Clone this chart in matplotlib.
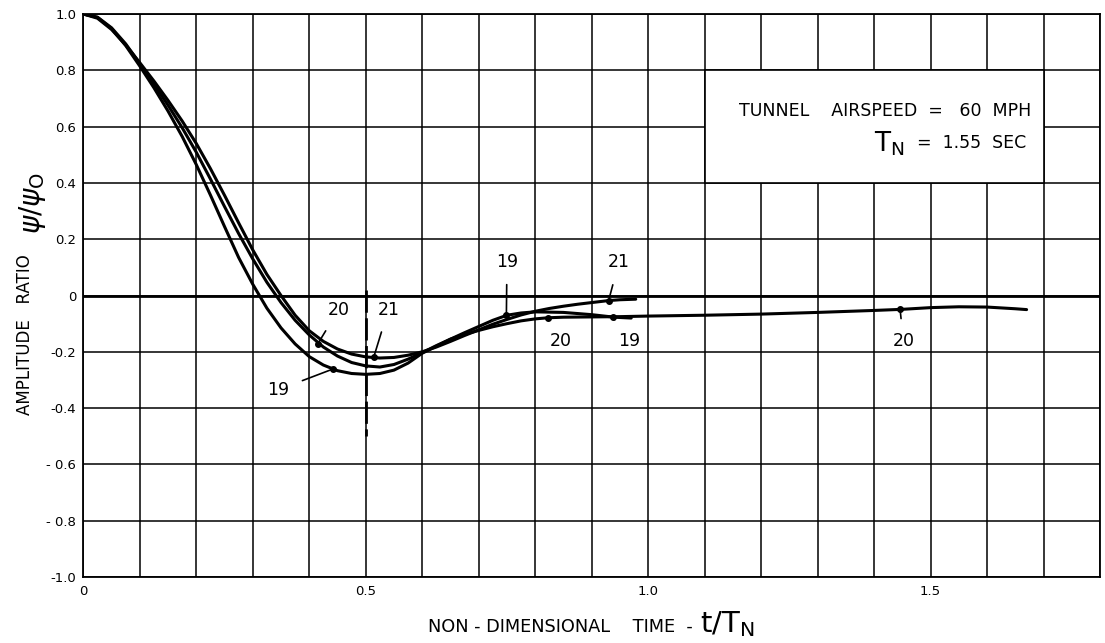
import matplotlib
matplotlib.use("Agg")
import matplotlib.pyplot as plt
from matplotlib.patches import Rectangle

# run 19
t19 = [0.0, 0.025, 0.05, 0.075, 0.10, 0.125, 0.15, 0.175, 0.20, 0.225, 0.25, 0.275,
       0.30, 0.325, 0.35, 0.375, 0.40, 0.425, 0.45, 0.475, 0.50, 0.525, 0.55, 0.575,
       0.60, 0.625, 0.65, 0.675, 0.70, 0.725, 0.75, 0.775, 0.80, 0.85, 0.90, 0.94, 0.97]
y19 = [1.0, 0.988, 0.948, 0.888, 0.815, 0.738, 0.655, 0.565, 0.465, 0.357, 0.245, 0.135,
       0.04, -0.045, -0.115, -0.172, -0.217, -0.247, -0.267, -0.277, -0.28, -0.277, -0.265, -0.24,
       -0.205, -0.18, -0.155, -0.132, -0.11, -0.088, -0.07, -0.062, -0.058, -0.06, -0.068, -0.077, -0.08]

# run 20
t20 = [0.0, 0.025, 0.05, 0.075, 0.10, 0.125, 0.15, 0.175, 0.20, 0.225, 0.25, 0.275,
       0.30, 0.325, 0.35, 0.375, 0.40, 0.425, 0.45, 0.475, 0.50, 0.525, 0.55, 0.575,
       0.60, 0.625, 0.65, 0.675, 0.70, 0.725, 0.75, 0.775, 0.80, 0.823, 0.85, 0.90, 0.95, 1.0,
       1.1, 1.2, 1.3, 1.4, 1.45, 1.5, 1.55, 1.6, 1.65, 1.67]
y20 = [1.0, 0.989, 0.951, 0.894, 0.824, 0.751, 0.676, 0.596, 0.509, 0.414, 0.316, 0.22,
       0.13, 0.047, -0.025, -0.088, -0.14, -0.183, -0.215, -0.238, -0.25, -0.254, -0.245, -0.226,
       -0.203, -0.178, -0.155, -0.138, -0.124, -0.111, -0.1, -0.09, -0.083, -0.079, -0.077, -0.076, -0.075, -0.073,
       -0.07, -0.066, -0.06, -0.053, -0.049, -0.043, -0.04, -0.041, -0.047, -0.05]

# run 21
t21 = [0.0, 0.025, 0.05, 0.075, 0.10, 0.125, 0.15, 0.175, 0.20, 0.225, 0.25, 0.275,
       0.30, 0.325, 0.35, 0.375, 0.40, 0.425, 0.45, 0.475, 0.50, 0.525, 0.55, 0.575,
       0.60, 0.625, 0.65, 0.675, 0.70, 0.725, 0.75, 0.775, 0.80, 0.825, 0.85, 0.875,
       0.90, 0.93, 0.95, 0.978]
y21 = [1.0, 0.985, 0.945, 0.89, 0.827, 0.762, 0.693, 0.62, 0.54, 0.451, 0.356, 0.258,
       0.162, 0.075, 0.0, -0.07, -0.125, -0.163, -0.19, -0.208, -0.218, -0.222, -0.22, -0.212,
       -0.2, -0.183, -0.163, -0.142, -0.122, -0.102, -0.085, -0.069, -0.056, -0.046, -0.038, -0.031,
       -0.025, -0.018, -0.015, -0.013]

# run labels: (text, point on curve, text position)
labels = [
    ("20", (0.415, -0.172), (0.452, -0.05)),
    ("21", (0.514, -0.22), (0.54, -0.05)),
    ("19", (0.442, -0.261), (0.345, -0.335)),
    ("19", (0.749, -0.07), (0.75, 0.12)),
    ("21", (0.93, -0.018), (0.948, 0.118)),
    ("20", (0.823, -0.079), (0.845, -0.16)),
    ("19", (0.937, -0.075), (0.967, -0.16)),
    ("20", (1.446, -0.049), (1.452, -0.163)),
]

xticks = [i / 10 for i in range(19)]
xlabels = {0: "0", 5: "0.5", 10: "1.0", 15: "1.5"}
yticks = [-1.0, -0.8, -0.6, -0.4, -0.2, 0.0, 0.2, 0.4, 0.6, 0.8, 1.0]
ylabels = ["-1.0", "- 0.8", "- 0.6", "-0.4", "-0.2", "0", "0.2", "0.4", "0.6", "0.8", "1.0"]

fig = plt.figure(figsize=(11.05, 6.43), dpi=100)
ax = fig.add_axes([0.0754, 0.1026, 0.9201, 0.8756])

ax.set_xlim(0, 1.8)
ax.set_ylim(-1.0, 1.0)
ax.set_xticks(xticks)
ax.set_xticklabels([xlabels.get(i, "") for i in range(19)], fontsize=9.5)
ax.set_yticks(yticks)
ax.set_yticklabels(ylabels, fontsize=9.5)
ax.tick_params(length=0, pad=6)
ax.tick_params(axis="y", pad=5)
ax.set_axisbelow(True)
ax.grid(True, color="black", lw=1.1)
for s in ax.spines.values():
    s.set_linewidth(1.3)

ax.axhline(0, color="black", lw=2.0, zorder=1)
ax.plot([0.5, 0.5], [0.02, -0.5], color="black", lw=2.0, dashes=(8, 2), zorder=1)

ax.add_patch(Rectangle((1.1, 0.4), 0.6, 0.4, facecolor="white", edgecolor="black",
                       lw=1.2, zorder=1.5))
ax.text(1.679, 0.656, "TUNNEL    AIRSPEED  =   60  MPH", fontsize=12.5, ha="right", va="center", zorder=3)
ax.text(1.40, 0.54, r"$\mathrm{T}_{\mathrm{N}}$", fontsize=19, ha="left", va="center", zorder=3)
ax.text(1.67, 0.542, "=  1.55  SEC", fontsize=12.5, ha="right", va="center", zorder=3)

for t, y in [(t19, y19), (t20, y20), (t21, y21)]:
    ax.plot(t, y, color="black", lw=2.2, solid_capstyle="round", solid_joinstyle="round", zorder=4)

for txt, pt, pos in labels:
    ax.annotate(txt, xy=pt, xytext=pos, fontsize=12.5, ha="center", va="center",
                arrowprops=dict(arrowstyle="-", color="black", lw=1.2, shrinkA=8, shrinkB=0),
                zorder=5)
    ax.plot(pt[0], pt[1], "o", color="black", ms=4, zorder=5)

fig.text(0.0226, 0.479, "AMPLITUDE   RATIO", rotation=90, fontsize=12, ha="center", va="center")
fig.text(0.029, 0.684, r"$\psi/\psi_{\mathrm{O}}$", rotation=90, fontsize=20, ha="center", va="center")

fig.text(0.627, 0.025, "NON - DIMENSIONAL    TIME  -", fontsize=12.8, ha="right", va="center")
fig.text(0.6335, 0.03, r"$\mathrm{t/T_N}$", fontsize=21, ha="left", va="center")

fig.savefig("out.png", dpi=100)
